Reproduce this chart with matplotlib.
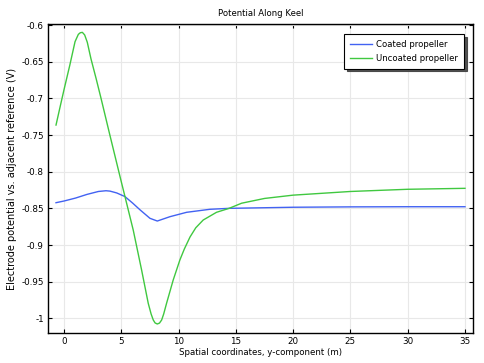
import numpy as np
import matplotlib.pyplot as plt

# Coated propeller
x_coated = [-0.7, 0, 1, 2, 3, 3.66, 4.01, 4.6, 5.32, 6.0, 6.63, 7.5, 8.14,
            9.24, 10.7, 12.73, 14.41, 20, 25, 30, 35]
y_coated = [-0.8423, -0.840, -0.836, -0.831, -0.827, -0.826, -0.8265, -0.829,
            -0.834, -0.843, -0.852, -0.8636, -0.8673, -0.8614, -0.8554,
            -0.8513, -0.850, -0.8485, -0.848, -0.8478, -0.8478]

# Uncoated propeller
x_uncoated = [-0.7, -0.35, 0.0, 0.5, 0.96, 1.25, 1.42, 1.6, 1.8, 2.03, 2.35,
              2.8, 3.23, 4.0, 4.97, 5.32, 6.04, 6.77, 7.35, 7.6, 7.79, 7.95,
              8.14, 8.33, 8.52, 8.7, 8.95, 9.53, 10.11, 10.5, 11.0, 11.5,
              12.15, 13.31, 14.41, 15.5, 17.5, 20.0, 25.0, 30.0, 35.0]
y_uncoated = [-0.7364, -0.712, -0.688, -0.655, -0.6227, -0.6127, -0.6105,
              -0.610, -0.6135, -0.6235, -0.646, -0.673, -0.700, -0.750, -0.812,
              -0.834, -0.8796, -0.934, -0.9795, -0.994, -1.0023, -1.0063,
              -1.0077, -1.0065, -1.0023, -0.994, -0.9795, -0.9477, -0.9205,
              -0.9055, -0.889, -0.8765, -0.8659, -0.8554, -0.850, -0.843,
              -0.8365, -0.832, -0.827, -0.824, -0.8227]

plt.rcParams['font.family'] = 'DejaVu Sans'
plt.rcParams['font.size'] = 6

fig = plt.figure(figsize=(4.84, 3.63), dpi=100)
ax = fig.add_axes([48/484, 1-333/363, (473-48)/484, (333-24)/363])

ax.plot(x_coated, y_coated, color='#4262f2', lw=1.0, label='Coated propeller')
ax.plot(x_uncoated, y_uncoated, color='#40c840', lw=1.0, label='Uncoated propeller')

ax.set_xlim(-1.4, 35.7)
ax.set_ylim(-1.02, -0.5986)
ax.set_xticks(np.arange(0, 36, 5))
ax.set_yticks([-1, -0.95, -0.9, -0.85, -0.8, -0.75, -0.7, -0.65, -0.6])
ax.set_yticklabels(['-1', '-0.95', '-0.9', '-0.85', '-0.8', '-0.75', '-0.7', '-0.65', '-0.6'])
ax.tick_params(direction='in', top=True, right=True, length=3, width=0.8,
               labelsize=6.3, pad=3)
ax.grid(color='#e8e8e8', lw=0.8)
for s in ax.spines.values():
    s.set_linewidth(1.0)

ax.set_title('Potential Along Keel', fontsize=6.1, pad=6)
ax.set_xlabel('Spatial coordinates, y-component (m)', fontsize=6.2, labelpad=1)
ax.set_ylabel('Electrode potential vs. adjacent reference (V)', fontsize=7, labelpad=3)

leg = ax.legend(loc='upper right', bbox_to_anchor=(0.979, 0.9676), borderaxespad=0,
                fancybox=False, shadow={'color': '0.25', 'alpha': 0.9},
                framealpha=1, edgecolor='black', fontsize=6.1,
                handlelength=2.5, handletextpad=0.55, borderpad=0.7,
                labelspacing=0.55)
leg.get_frame().set_linewidth(0.8)

fig.savefig('out.png', dpi=100)
